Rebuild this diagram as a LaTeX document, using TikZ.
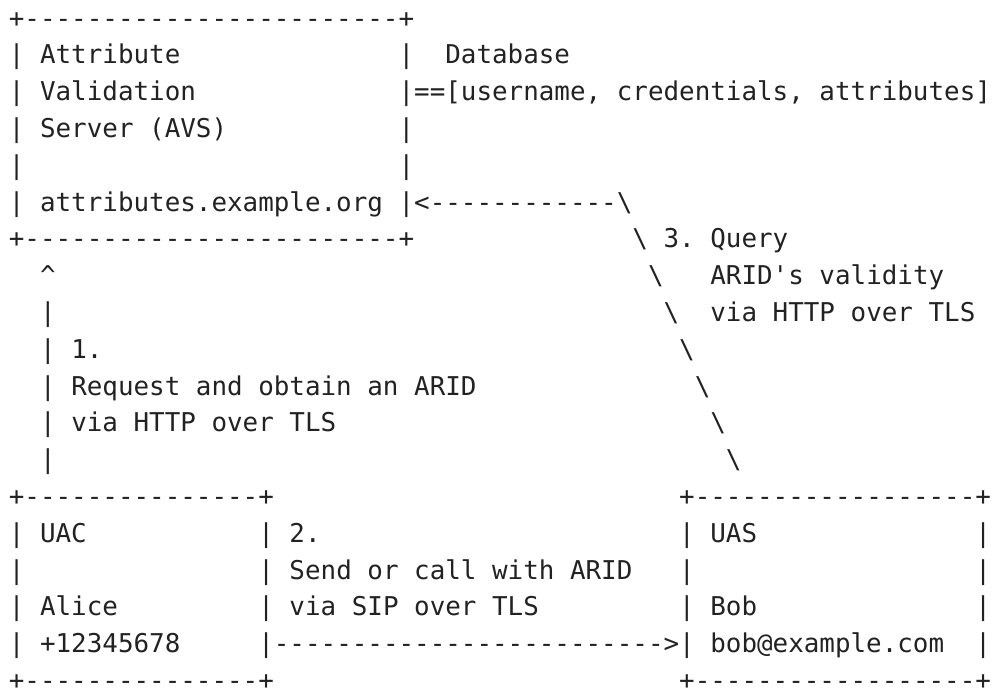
\documentclass[tikz,border=0pt]{standalone}
\usepackage{fontspec}
\setmonofont{DejaVu Sans Mono}
\usepackage{xcolor}
\definecolor{ink}{HTML}{222222}

% 文字の繰り返しと空白(文字幅単位)
\newcommand{\rpt}[2]{\foreach \k in {1,...,#1}{#2}}
\newcommand{\sk}[1]{\hskip#1\fontcharwd\font`x\relax}
\newcommand{\bs}{\textbackslash}

\tikzset{
    asc/.style={anchor=base west, inner sep=0pt, outer sep=0pt, text=ink,
        font=\fontsize{19.42pt}{23pt}\selectfont\ttfamily}
}

\begin{document}
\begin{tikzpicture}[x=11.689pt, y=-27.6pt]
    \useasboundingbox (-0.571,-0.739) rectangle (63.08,18.011);

    % AVS
    \node[asc] (l0) at (0,0) {+\rpt{24}{-}+};
    \node[asc] (l1) at (0,1) {| Attribute\sk{14}|\sk{2}Database};
    \node[asc] (l2) at (0,2) {| Validation\sk{13}|==[username, credentials, attributes]};
    \node[asc] (l3) at (0,3) {| Server (AVS)\sk{11}|};
    \node[asc] (l4) at (0,4) {|\sk{24}|};
    \node[asc] (l5) at (0,5) {| attributes.example.org |<\rpt{12}{-}\bs};
    \node[asc] (l6) at (0,6) {+\rpt{24}{-}+\sk{14}\bs{} 3. Query};

    % 1. / 3.
    \node[asc] (l7) at (0,7) {\sk{2}\textasciicircum\sk{38}\bs\sk{3}ARID's validity};
    \node[asc] (l8) at (0,8) {\sk{2}|\sk{39}\bs\sk{2}via HTTP over TLS};
    \node[asc] (l9) at (0,9) {\sk{2}| 1.\sk{37}\bs};
    \node[asc] (l10) at (0,10) {\sk{2}| Request and obtain an ARID\sk{14}\bs};
    \node[asc] (l11) at (0,11) {\sk{2}| via HTTP over TLS\sk{24}\bs};
    \node[asc] (l12) at (0,12) {\sk{2}|\sk{43}\bs};

    % UAC / UAS
    \node[asc] (l13) at (0,13) {+\rpt{15}{-}+\sk{26}+\rpt{18}{-}+};
    \node[asc] (l14) at (0,14) {| UAC\sk{11}| 2.\sk{23}| UAS\sk{14}|};
    \node[asc] (l15) at (0,15) {|\sk{15}| Send or call with ARID\sk{3}|\sk{18}|};
    \node[asc] (l16) at (0,16) {| Alice\sk{9}| via SIP over TLS\sk{9}| Bob\sk{14}|};
    \node[asc] (l17) at (0,17) {| +12345678\sk{5}|\rpt{25}{-}>| bob@example.com\sk{2}|};
    \node[asc] (l18) at (0,18) {+\rpt{15}{-}+\sk{26}+\rpt{18}{-}+};
\end{tikzpicture}
\end{document}
